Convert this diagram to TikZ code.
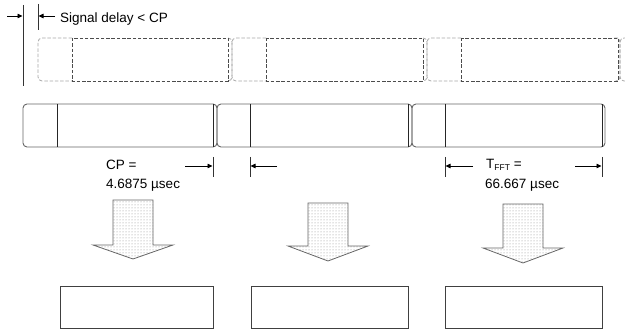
\documentclass[tikz,border=0pt]{standalone}
\usepackage{fontspec}
\setmainfont{Liberation Sans}
\usetikzlibrary{patterns,arrows.meta}
\begin{document}
\begin{tikzpicture}[x=1pt,y=-1pt,
  solidl/.style={draw=black!60, line width=0.9pt, rounded corners=4pt},
  cpl/.style={draw=black!85, line width=0.8pt},
  darkdash/.style={draw=black!70, line width=0.8pt, dash pattern=on 3.5pt off 1.8pt},
  graydash/.style={draw=black!35, line width=0.8pt, dash pattern=on 3.5pt off 1.8pt, rounded corners=4pt},
  dim/.style={draw=black, line width=0.8pt, -{Triangle[length=5pt,width=4.5pt]}},
  tickl/.style={draw=black!80, line width=0.8pt},
  lbl/.style={inner sep=0pt, anchor=base west, font=\fontsize{13.5}{20}\selectfont},
  blockarrow/.style={draw=black!60, line width=0.8pt, preaction={fill=white}, pattern=dots, pattern color=black!45},
  outbox/.style={draw=black!75, line width=1.1pt, minimum height=42pt, anchor=north west, inner sep=0pt}
]
\useasboundingbox (0,0) rectangle (625,331);

% ---- delay markers
\coordinate (v1t) at (23,5);  \coordinate (v1b) at (23,86);
\coordinate (v2t) at (38,4);  \coordinate (v2b) at (38,30);
\draw[tickl] (v1t) -- (v1b);
\draw[tickl] (v2t) -- (v2b);
\coordinate (d1s) at (7,16);  \coordinate (d1e) at (22.5,16);
\coordinate (d2s) at (55,16); \coordinate (d2e) at (38.5,16);
\draw[dim] (d1s) -- (d1e);
\draw[dim] (d2s) -- (d2e);
\node[lbl] (sig) at (60,22.3) {Signal delay < CP};

% ---- delayed (dashed) symbols
\begin{scope}
\clip (0,0) rectangle (625,331);
\foreach \xs/\xc/\xi/\xe in {38/72/228/232, 232/266/423/427, 427/461/618/620}{
  \draw[graydash] (\xc,38) -- (\xs,38) -- (\xs,81) -- (\xc,81);
  \draw[graydash] (\xi,38) -- (\xe,38) -- (\xe,81) -- (\xi,81);
  \draw[darkdash] (\xc,38) rectangle (\xi,81);
}
\draw[graydash] (632,38) -- (620,38) -- (620,81) -- (632,81);
\end{scope}

% ---- received (solid) symbols
\foreach \xs/\xc/\xi/\xe in {23/57/213/217, 217/250/408/412, 412/445/602/605}{
  \draw[solidl] (\xs,104) rectangle (\xe,147);
  \draw[cpl] (\xc,104) -- (\xc,147);
  \draw[cpl] (\xi,104) -- (\xi,147);
}

% ---- dimension marks
\coordinate (t1t) at (213,157); \coordinate (t1b) at (213,177);
\coordinate (t2t) at (250,157); \coordinate (t2b) at (250,177);
\coordinate (t3t) at (445,157); \coordinate (t3b) at (445,177);
\coordinate (t4t) at (602,157); \coordinate (t4b) at (602,177);
\draw[tickl] (t1t) -- (t1b);
\draw[tickl] (t2t) -- (t2b);
\draw[tickl] (t3t) -- (t3b);
\draw[tickl] (t4t) -- (t4b);
\coordinate (c1s) at (185,166); \coordinate (c1e) at (212.5,166);
\coordinate (c2s) at (277,166); \coordinate (c2e) at (250.5,166);
\coordinate (c3s) at (473,166); \coordinate (c3e) at (445.5,166);
\coordinate (c4s) at (575,166); \coordinate (c4e) at (601.5,166);
\draw[dim] (c1s) -- (c1e);
\draw[dim] (c2s) -- (c2e);
\draw[dim] (c3s) -- (c3e);
\draw[dim] (c4s) -- (c4e);
\node[lbl] (cp1) at (106,169.3) {CP =};
\node[lbl] (cp2) at (106,189) {4.6875 µsec};
\node[lbl] (tf1) at (486,168.5) {T\raisebox{-2.5pt}{\fontsize{8.5}{8.5}\selectfont FFT} =};
\node[lbl] (tf2) at (485,189) {66.667 µsec};

% ---- block arrows
\draw[blockarrow] (113,200) -- (153,200) -- (153,245) -- (173,245) -- (133,259) -- (93,245) -- (113,245) -- cycle;
\draw[blockarrow] (308,203) -- (348,203) -- (348,246) -- (368,246) -- (328,261) -- (288,246) -- (308,246) -- cycle;
\draw[blockarrow] (503,204) -- (543,204) -- (543,248) -- (563,248) -- (523,263) -- (483,248) -- (503,248) -- cycle;

% ---- output boxes
\node[outbox, minimum width=153pt] (b1) at (60,286) {};
\node[outbox, minimum width=157pt] (b2) at (251,286) {};
\node[outbox, minimum width=157pt] (b3) at (445,286) {};
\end{tikzpicture}
\end{document}
